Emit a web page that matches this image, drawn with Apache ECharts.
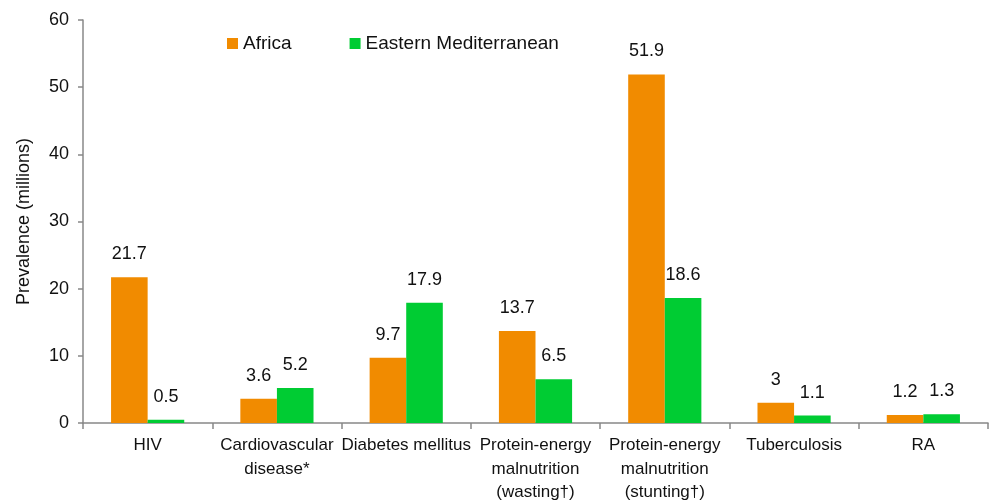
<!DOCTYPE html>
<html><head><meta charset="utf-8">
<script src="https://cdn.jsdelivr.net/npm/echarts@6/dist/echarts.min.js"></script>
<style>html,body{margin:0;padding:0;background:#fff}#c{width:989px;height:501px}</style>
</head><body><div id="c"></div>
<script>
const categories = ["HIV", "Cardiovascular\ndisease*", "Diabetes mellitus", "Protein-energy\nmalnutrition\n(wasting\u2020)", "Protein-energy\nmalnutrition\n(stunting\u2020)", "Tuberculosis", "RA"];
const africa = [21.7, 3.6, 9.7, 13.7, 51.9, 3, 1.2];
const eastMed = [0.5, 5.2, 17.9, 6.5, 18.6, 1.1, 1.3];
const seriesNames = ["Africa", "Eastern Mediterranean"];
const yTicks = {min: 0, max: 60, interval: 10};

const font = "'Liberation Sans', Arial, Helvetica, sans-serif";
const chart = echarts.init(document.getElementById('c'));
chart.setOption({
  animation: false,
  textStyle: {fontFamily: font},
  grid: {left: 83, right: 1, top: 20, bottom: 78, containLabel: false, outerBoundsMode: 'none'},
  legend: {
    data: seriesNames, left: 222, top: 29, itemWidth: 11, itemHeight: 11, itemGap: 58,
    icon: 'rect',
    textStyle: {fontSize: 19, color: '#111', fontFamily: font}
  },
  xAxis: {
    type: 'category', data: categories,
    axisLine: {lineStyle: {color: '#888', width: 1.5}},
    axisTick: {show: true, length: 6, lineStyle: {color: '#888', width: 1.5}},
    axisLabel: {interval: 0, fontSize: 17, color: '#111', lineHeight: 23.5, margin: 11, fontFamily: font}
  },
  yAxis: {
    type: 'value', min: yTicks.min, max: yTicks.max, interval: yTicks.interval,
    name: 'Prevalence (millions)', nameLocation: 'middle', nameGap: 50,
    nameTextStyle: {fontSize: 18, color: '#111', fontFamily: font},
    axisLine: {show: true, lineStyle: {color: '#888', width: 1.5}},
    axisTick: {show: true, length: 5, lineStyle: {color: '#888', width: 1.5}},
    splitLine: {show: false},
    axisLabel: {fontSize: 18, color: '#111', margin: 14, fontFamily: font}
  },
  series: [
    {name: seriesNames[0], type: 'bar', data: africa, barWidth: '28.3%', barGap: '0%',
     itemStyle: {color: '#F18B00'},
     label: {show: true, position: 'top', distance: 14, fontSize: 18, color: '#111', fontFamily: font}},
    {name: seriesNames[1], type: 'bar', data: eastMed, barWidth: '28.3%',
     itemStyle: {color: '#00CC33'},
     label: {show: true, position: 'top', distance: 14, fontSize: 18, color: '#111', fontFamily: font}}
  ]
});
</script></body></html>
